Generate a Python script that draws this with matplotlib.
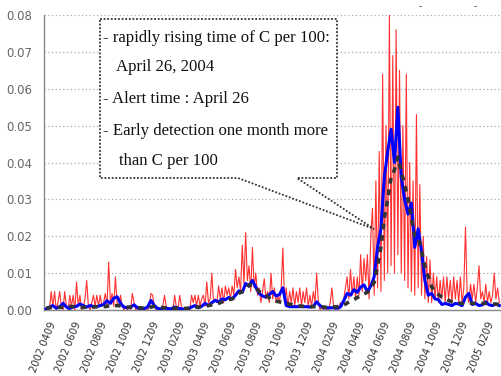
import numpy as np
import matplotlib
matplotlib.use("Agg")
import matplotlib.pyplot as plt
from matplotlib.patches import Polygon

# ---------------- data ----------------
start_date = np.datetime64("2002-03-24")

# red daily-style series sampled every 4 days
red_values = [
    0, 0.001, 0, 0.005, 0.001, 0.005, 0, 0.002, 0.005, 0.001,
    0, 0.005, 0.001, 0, 0.004, 0.001, 0.004, 0, 0.0076, 0.001,
    0.004, 0, 0.001, 0.003, 0.008, 0.001, 0, 0.002, 0.004, 0.001,
    0.004, 0.001, 0.004, 0.001, 0.002, 0.0045, 0.001, 0.013, 0.002, 0.0045,
    0.001, 0.009, 0.002, 0.001, 0.004, 0.001, 0, 0.001, 0, 0.001,
    0, 0.0045, 0.002, 0, 0, 0.001, 0, 0, 0, 0,
    0, 0.001, 0.0045, 0.004, 0.001, 0, 0, 0, 0, 0.001,
    0.004, 0.001, 0, 0, 0, 0, 0.004, 0.001, 0, 0.004,
    0.001, 0, 0, 0, 0, 0, 0.004, 0.002, 0.004, 0.001,
    0.004, 0.001, 0.003, 0.004, 0.001, 0.0076, 0.002, 0.003, 0.01, 0.002,
    0.003, 0.002, 0.0065, 0.003, 0.006, 0.002, 0.0065, 0.004, 0.006, 0.003,
    0.0065, 0.004, 0.011, 0.006, 0.009, 0.005, 0.0176, 0.007, 0.021, 0.008,
    0.012, 0.005, 0.017, 0.006, 0.01, 0.004, 0.006, 0.002, 0.005, 0.0085,
    0.003, 0.005, 0.002, 0.01, 0.003, 0.006, 0.002, 0.004, 0.002, 0.006,
    0.0168, 0.002, 0.006, 0.001, 0.005, 0.002, 0.006, 0.001, 0.005, 0.002,
    0.006, 0.001, 0.005, 0.002, 0.006, 0.001, 0.004, 0.001, 0.005, 0.002,
    0.01, 0.002, 0, 0.001, 0, 0.001, 0, 0, 0.002, 0.006,
    0.001, 0, 0.001, 0, 0.002, 0.001, 0.003, 0.006, 0.009, 0.003,
    0.011, 0.004, 0.009, 0.003, 0.009, 0.004, 0.015, 0.005, 0.014, 0.008,
    0.015, 0.003, 0.02, 0.0276, 0.004, 0.035, 0.006, 0.043, 0.005, 0.064,
    0.008, 0.05, 0.01, 0.08, 0.012, 0.069, 0.01, 0.076, 0.015, 0.065,
    0.01, 0.05, 0.008, 0.064, 0.006, 0.04, 0.005, 0.035, 0.004, 0.053,
    0.006, 0.034, 0.004, 0.02, 0.003, 0.0145, 0.002, 0.0136, 0.002, 0.01,
    0.003, 0.009, 0.002, 0.008, 0.003, 0.009, 0.002, 0.009, 0.003, 0.008,
    0.002, 0.009, 0.003, 0.008, 0.002, 0.009, 0.002, 0.006, 0.0225, 0.004,
    0.002, 0.007, 0.003, 0.007, 0.002, 0.006, 0.012, 0.003, 0.005, 0.002,
    0.007, 0.002, 0.005, 0.002, 0.004, 0.01, 0.003, 0.006, 0.002,
]

# blue smoothed series sampled every 8 days
blue_values = [
    0.0003, 0.0008, 0.0012, 0.0005, 0.0008, 0.0018, 0.0008, 0.0004, 0.0009, 0.001,
    0.0016, 0.0012, 0.0008, 0.0012, 0.001, 0.0009, 0.0012, 0.0015, 0.0025, 0.0018,
    0.0032, 0.0036, 0.0018, 0.0008, 0.0006, 0.0008, 0.0014, 0.0006, 0.0003, 0.0004,
    0.0008, 0.0026, 0.0012, 0.0004, 0.0003, 0.0006, 0.0004, 0.0003, 0.0008, 0.0005,
    0.0003, 0.0002, 0.0003, 0.0008, 0.0012, 0.0006, 0.001, 0.0018, 0.0012, 0.002,
    0.0026, 0.0022, 0.003, 0.0028, 0.0034, 0.003, 0.004, 0.0052, 0.0048, 0.0072,
    0.0065, 0.008, 0.0062, 0.0045, 0.0038, 0.0035, 0.0042, 0.005, 0.0038, 0.0042,
    0.006, 0.0012, 0.0009, 0.0009, 0.0009, 0.0009, 0.0009, 0.0009, 0.0008, 0.001,
    0.0022, 0.0012, 0.0006, 0.0006, 0.0006, 0.0006, 0.0005, 0.0008, 0.0025, 0.0045,
    0.004, 0.0055, 0.0048, 0.0062, 0.0068, 0.005, 0.0065, 0.009, 0.017, 0.022,
    0.036, 0.043, 0.049, 0.04, 0.055, 0.036, 0.03, 0.026, 0.029, 0.017,
    0.022, 0.016, 0.008, 0.004, 0.0045, 0.003, 0.0028, 0.0015, 0.0018, 0.0015,
    0.0012, 0.0018, 0.0016, 0.0012, 0.0035, 0.0045, 0.0015, 0.0018, 0.0012, 0.0014,
    0.0022, 0.0014, 0.0012, 0.0016, 0.0012,
]

# black dashed series (C per 100) sampled every 8 days
black_values = [
    0.0005, 0.0006, 0.0008, 0.0008, 0.0007, 0.0008, 0.0009, 0.001, 0.0009, 0.0008,
    0.0008, 0.0007, 0.0008, 0.0009, 0.0008, 0.0009, 0.0008, 0.0009, 0.001, 0.0012,
    0.0012, 0.0012, 0.0011, 0.001, 0.0008, 0.0008, 0.0007, 0.0006, 0.0006, 0.0005,
    0.0006, 0.0008, 0.001, 0.0009, 0.0007, 0.0006, 0.0005, 0.0005, 0.0005, 0.0005,
    0.0005, 0.0004, 0.0005, 0.0006, 0.0007, 0.0008, 0.0009, 0.001, 0.0012, 0.0014,
    0.0015, 0.0018, 0.0022, 0.0025, 0.0028, 0.003, 0.0035, 0.0045, 0.005, 0.0055,
    0.0068, 0.0068, 0.006, 0.005, 0.0046, 0.004, 0.0033, 0.0027, 0.0024, 0.0022,
    0.002, 0.0018, 0.0016, 0.0014, 0.0012, 0.0011, 0.001, 0.001, 0.0009, 0.0009,
    0.0009, 0.0008, 0.0008, 0.0007, 0.0007, 0.0008, 0.0009, 0.001, 0.0013, 0.0019,
    0.0024, 0.0028, 0.0034, 0.0038, 0.0044, 0.0048, 0.006, 0.0075, 0.012, 0.017,
    0.025, 0.03, 0.036, 0.038, 0.0415, 0.0375, 0.034, 0.03, 0.025, 0.02,
    0.0198, 0.016, 0.0117, 0.009, 0.0063, 0.005, 0.0042, 0.0035, 0.003, 0.0026,
    0.0022, 0.002, 0.0019, 0.0018, 0.0018, 0.0019, 0.0018, 0.0018, 0.0018, 0.0018,
    0.0018, 0.0017, 0.0016, 0.0016, 0.0015,
]

tick_dates = ["2002-04-09", "2002-06-09", "2002-08-09", "2002-10-09", "2002-12-09",
              "2003-02-09", "2003-04-09", "2003-06-09", "2003-08-09", "2003-10-09",
              "2003-12-09", "2004-02-09", "2004-04-09", "2004-06-09", "2004-08-09",
              "2004-10-09", "2004-12-09", "2005-02-09"]
tick_labels = ["2002 0409", "2002 0609", "2002 0809", "2002 1009", "2002 1209",
               "2003 0209", "2003 0409", "2003 0609", "2003 0809", "2003 1009",
               "2003 1209", "2004 0209", "2004 0409", "2004 0609", "2004 0809",
               "2004 1009", "2004 1209", "2005 0209"]
y_ticks = [0.00, 0.01, 0.02, 0.03, 0.04, 0.05, 0.06, 0.07, 0.08]

note_lines = ["- rapidly rising time of C per 100:",
              "April 26, 2004",
              "- Alert time : April 26",
              "- Early detection one month more",
              "than C per 100"]

# ---------------- plot ----------------
W, H = 501, 376
fig = plt.figure(figsize=(W / 100, H / 100), dpi=100)
ax = fig.add_axes([44 / W, 1 - 310 / H, 1 - 44 / W, (310 - 15) / H])

red_dates = start_date + np.arange(len(red_values)) * np.timedelta64(4, "D")
blue_dates = start_date + np.arange(len(blue_values)) * np.timedelta64(8, "D")
black_dates = start_date + np.arange(len(black_values)) * np.timedelta64(8, "D")

ax.plot(red_dates, red_values, color="#ff1a1a", lw=0.8, alpha=0.9, zorder=2)
ax.plot(blue_dates, blue_values, color="#0000ff", lw=2.2, zorder=3)
ax.plot(black_dates, black_values, color="#333333", lw=2.6, dashes=(1.6, 1.6), zorder=4)

ax.set_ylim(0, 0.08)
ax.set_xlim(np.datetime64("2002-03-19"), np.datetime64("2005-03-04"))
ax.set_yticks(y_ticks)
ax.set_yticklabels([f"{v:.2f}" for v in y_ticks], color="#666666", fontsize=8.5)
ax.set_xticks([np.datetime64(d) for d in tick_dates])
ax.set_xticklabels(tick_labels, rotation=68, ha="right", va="center",
                   rotation_mode="anchor", fontsize=7.2, color="#333333")
ax.tick_params(axis="both", length=0)
ax.tick_params(axis="x", pad=9)
ax.tick_params(axis="y", pad=8.5)

ax.yaxis.grid(True, linestyle=(0, (1, 2)), color="#aaaaaa", lw=0.9)
ax.set_axisbelow(True)
for s in ["top", "right"]:
    ax.spines[s].set_visible(False)
for s in ["left", "bottom"]:
    ax.spines[s].set_color("#888888")
    ax.spines[s].set_linewidth(1.0)

# callout box
def fp(x, y):
    return (x / W, 1 - y / H)

verts = [fp(100, 19), fp(337, 19), fp(337, 178), fp(297, 178), fp(374, 229),
         fp(238, 178), fp(100, 178)]
poly = Polygon(verts, closed=True, facecolor="white", edgecolor="#333333",
               lw=1.3, linestyle=(0, (1, 1)), transform=fig.transFigure,
               zorder=6, clip_on=False)
ax.add_patch(poly)

text_pos = [(103, 38), (116, 67), (103, 99), (103, 131), (119, 161)]
for (tx, ty), line in zip(text_pos, note_lines):
    fig.text(tx / W, 1 - ty / H, line, fontsize=12.1, family="Liberation Serif",
             color="#111111", ha="left", va="center", zorder=7)

fig.text(420 / W, 1 - 7 / H, "-", fontsize=6, color="#222222", ha="center", va="center")
fig.text(475 / W, 1 - 7 / H, "-", fontsize=6, color="#222222", ha="center", va="center")

fig.savefig("out.png", dpi=100)
